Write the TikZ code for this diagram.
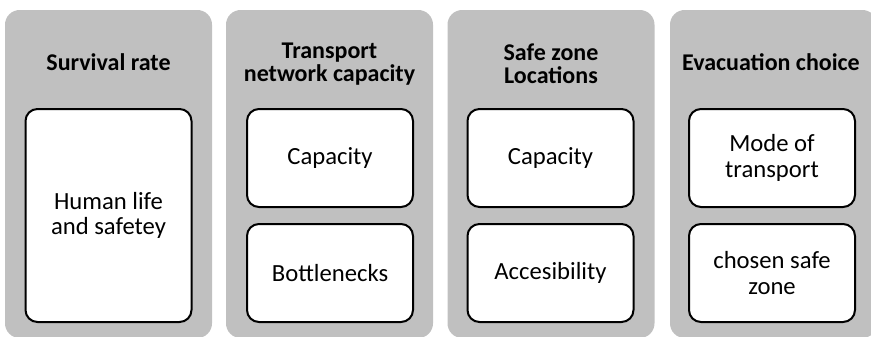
\documentclass[tikz,border=0pt]{standalone}
\usepackage{fontspec}
\setmainfont{Carlito}
\usepackage{tikz}
\definecolor{gris}{RGB}{192,192,192}

\begin{document}
\begin{tikzpicture}[x=0.75pt,y=-0.75pt]
\tikzstyle{colonne}=[fill=gris,rounded corners=11pt,minimum width=155.25pt,minimum height=246pt,inner sep=0pt]
\tikzset{case/.style={draw,line width=1.5pt,fill=white,rounded corners=9pt,minimum width=124.5pt,minimum height=#1,inner sep=0pt,align=center,font=\fontsize{18.5}{19}\selectfont},
case/.default={73.5pt},
titre/.style={align=center,font=\bfseries\fontsize{18}{17}\selectfont}}
\useasboundingbox (0,0) rectangle (871,336);

\node[colonne] (surv) at (108.5,174) {};
\node[colonne] (trans) at (329.5,174) {};
\node[colonne] (safe) at (551,174) {};
\node[colonne] (evac) at (773.5,174) {};

\node[titre] (t1) at (108.5,62) {Survival rate};
\node[titre] (t2) at (329.5,64) {Transport\\network capacity};
\node[titre] (t3) at (551,64) {Safe zone\\Locations};
\node[titre] (t4) at (771,62) {Evacuation choice};

\node[case=159.75pt] (life) at (108.5,215.5) {Human life\\and safetey};
\node[case] (tcap) at (330,158) {Capacity};\node[case] (bott) at (330,273) {Bottlenecks};
\node[case] (scap) at (550.5,158) {Capacity};\node[case] (acc) at (550.5,273) {Accesibility};
\node[case] (mode) at (772,158) {Mode of\\transport};\node[case] (zone) at (772,273) {chosen safe\\zone};

\end{tikzpicture}
\end{document}
